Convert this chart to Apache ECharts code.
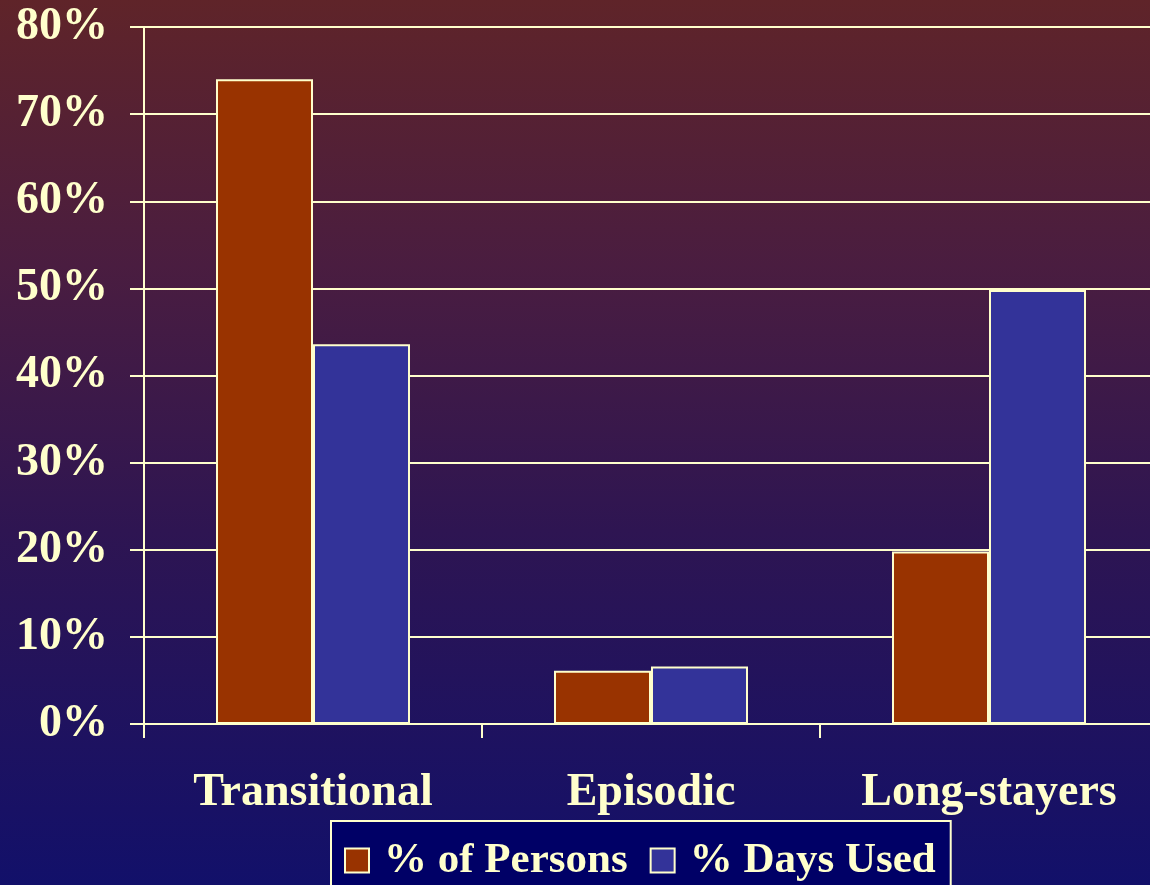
<!DOCTYPE html>
<html>
<head>
<meta charset="utf-8">
<title>Shelter use by cluster</title>
<script src="https://cdn.jsdelivr.net/npm/echarts@6/dist/echarts.min.js"></script>
<style>
  html, body { margin: 0; padding: 0; }
  body {
    width: 1150px; height: 885px; overflow: hidden;
    background: linear-gradient(to bottom, #5f2429 0%, #4a1d40 30%, #2e1552 60%, #12106a 100%);
  }
  #chart { width: 1150px; height: 885px; }
</style>
</head>
<body>
<div id="chart"></div>
<script>
// Cluster groups and the share of persons / shelter days in each
const categories = ['Transitional', 'Episodic', 'Long-stayers'];
const personsPct = [74.0, 6.1, 19.8];
const daysUsedPct = [43.6, 6.6, 49.8];
const seriesNames = ['% of Persons', '% Days Used'];
const yTicks = [0, 10, 20, 30, 40, 50, 60, 70, 80];

const cream = '#FFFFCC';
const font = '"Liberation Serif", "Times New Roman", serif';

const chart = echarts.init(document.getElementById('chart'), null, { renderer: 'canvas' });

chart.setOption({
  backgroundColor: 'transparent',
  animation: false,
  // plot area runs slightly past the right edge of the canvas
  grid: {
    left: 144, top: 27, width: 1014, bottom: 161,
    containLabel: false,
    outerBoundsMode: 'none'
  },
  legend: {
    data: seriesNames,
    left: 331,
    top: 821,
    orient: 'horizontal',
    backgroundColor: '#000066',
    borderColor: cream,
    borderWidth: 2,
    padding: [18, 15, 24, 13],
    itemWidth: 24,
    itemHeight: 24,
    itemGap: 22,
    icon: 'rect',
    textStyle: {
      color: cream,
      fontFamily: font,
      fontWeight: 'bold',
      fontSize: 43,
      padding: [0, 0, 0, 10]
    }
  },
  xAxis: {
    type: 'category',
    data: categories,
    axisLine: { show: false },
    axisTick: { show: true, length: 14, lineStyle: { color: cream, width: 2 } },
    axisLabel: {
      color: cream,
      fontFamily: font,
      fontWeight: 'bold',
      fontSize: 46,
      margin: 46
    },
    splitLine: { show: false }
  },
  yAxis: {
    type: 'value',
    min: yTicks[0],
    max: yTicks[yTicks.length - 1],
    interval: 10,
    axisLine: { show: true, lineStyle: { color: cream, width: 2 } },
    axisTick: { show: true, length: 14, lineStyle: { color: cream, width: 2 } },
    axisLabel: {
      color: cream,
      fontFamily: font,
      fontWeight: 'bold',
      fontSize: 46,
      margin: 36,
      formatter: v => v + '%'
    },
    splitLine: { show: true, lineStyle: { color: cream, width: 2 } }
  },
  series: [
    {
      name: seriesNames[0],
      type: 'bar',
      data: personsPct,
      barGap: '0%',
      barCategoryGap: '42.6%',
      itemStyle: { color: '#993300', borderColor: cream, borderWidth: 2 }
    },
    {
      name: seriesNames[1],
      type: 'bar',
      data: daysUsedPct,
      barGap: '0%',
      barCategoryGap: '42.6%',
      itemStyle: { color: '#333399', borderColor: cream, borderWidth: 2 }
    }
  ]
});
</script>
</body>
</html>
